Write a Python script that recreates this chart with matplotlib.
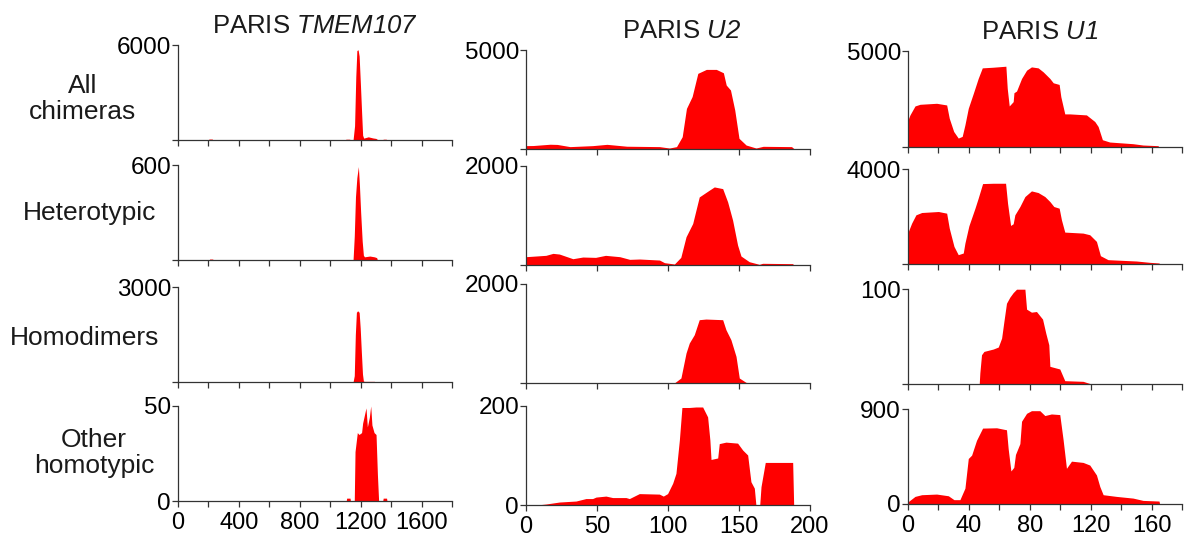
import matplotlib.pyplot as plt
from matplotlib.ticker import MultipleLocator

plt.rcParams['font.family'] = ['Liberation Sans', 'DejaVu Sans']
# gene names in the titles are set in italic sans, digits included
plt.rcParams['mathtext.fontset'] = 'custom'
plt.rcParams['mathtext.sf'] = 'Liberation Sans:italic'
plt.rcParams['mathtext.rm'] = 'Liberation Sans'

W, H = 1192, 539
RED = '#ff0000'
INK = '#1a1a1a'
SPINE = '#333333'

# ---------- PARIS TMEM107, chimera coverage along 0-1800 nt ----------
tmem_all_x = [0, 200, 203, 225, 228, 1100, 1103, 1128, 1131,
              1150, 1160, 1168, 1175, 1183, 1190, 1198, 1206, 1213, 1220, 1250, 1280, 1300, 1315,
              1345, 1348, 1368, 1371]
tmem_all_y = [0, 0, 60, 60, 0, 0, 50, 50, 0,
              0, 900, 4000, 5650, 5700, 5300, 3600, 1800, 300, 120, 200, 130, 100, 0,
              0, 50, 50, 0]

tmem_het_x = [0, 205, 208, 228, 231,
              1150, 1158, 1166, 1175, 1185, 1192, 1200, 1210, 1218, 1225, 1260, 1290, 1305, 1310]
tmem_het_y = [0, 0, 6, 6, 0,
              0, 150, 400, 520, 590, 470, 300, 120, 30, 20, 25, 20, 15, 0]

tmem_homo_x = [1150, 1158, 1165, 1172, 1180, 1190, 1197, 1205, 1212, 1218, 1225, 1290, 1295]
tmem_homo_y = [0, 200, 1500, 2200, 2250, 2200, 1700, 900, 250, 30, 20, 20, 0]

tmem_oth_x = [1105, 1108, 1130, 1133,
              1158, 1163, 1169, 1178, 1189, 1206, 1213, 1224, 1235, 1244, 1257, 1266, 1274,
              1288, 1301, 1310, 1318,
              1345, 1348, 1370, 1373]
tmem_oth_y = [0, 1.5, 1.5, 0,
              0, 26, 30, 36, 35, 36, 41, 45, 49, 39, 44, 50, 40,
              36, 35, 14, 0,
              0, 1.5, 1.5, 0]

# ---------- PARIS U2, 0-200 nt ----------
u2_all_x = [0, 5, 17, 22, 31, 47, 57, 71, 94, 101, 106, 110, 113, 117, 121, 127, 134,
            139, 141, 144, 147, 150, 155, 162, 167, 187, 189]
u2_all_y = [170, 175, 240, 230, 120, 170, 235, 140, 120, 50, 120, 620, 2050, 2650, 3820,
            4020, 4020, 3850, 3230, 2980, 1970, 540, 200, 50, 135, 120, 0]

u2_het_x = [0, 14, 19, 23.5, 33, 40, 49, 56, 66, 73, 80, 94, 97.5, 104.5, 109, 112.7,
            117.4, 122, 129, 132.6, 138.5, 142, 145.5, 149, 151.4, 157.2, 164.3, 166.6,
            187.8, 188.5]
u2_het_y = [168, 195, 235, 221, 127, 161, 154, 195, 168, 114, 121, 100, 47, 20, 154, 570,
            839, 1375, 1510, 1577, 1543, 1275, 906, 403, 181, 67, 13, 34,
            27, 0]

u2_homo_x = [104.4, 109.1, 112.7, 115, 118.5, 122, 126.7, 138.5, 140.8, 144.3, 147.9,
             150.2, 154.9, 158.4]
u2_homo_y = [0, 101, 606, 808, 976, 1279, 1292, 1279, 1077, 875, 538, 101, 13, 0]

u2_oth_x = [7.5, 14.1, 23.5, 35.2, 42.2, 46.9, 49.3, 56.3, 61, 70.4, 72.8, 79.8, 93.9,
            96.7, 99.7, 103.3, 105.6, 108, 109.8, 115, 119.7, 124.4, 127.9, 129.5, 130.3,
            135, 136.1, 140.8, 149, 152.6, 156.1, 158.4, 160.8, 161.9,
            164.6, 165.5, 168.5, 187.8, 188.5]
u2_oth_y = [0, 2, 6, 8, 13, 13, 16, 18, 15, 15, 13, 23, 22,
            18, 23, 44, 64, 131, 197, 197, 198, 198, 178, 131, 92,
            95, 124, 127, 125, 111, 101, 47, 34, 0,
            0, 37, 86, 86, 0]

# ---------- PARIS U1, 0-180 nt ----------
u1_all_x = [0, 1.3, 4.6, 7.9, 18.8, 25.4, 27.1, 30, 33, 35.6, 37.4, 39.6, 42.9, 46.1,
            48.8, 55.9, 64.3, 65.2, 66.5, 69.1, 69.6, 71.3, 74.6, 77.9, 81.1, 85.5, 88.8,
            93.2, 95.4, 99.3, 100.4, 103, 106.3, 117.2, 122.7, 124.9, 127.7, 132.5,
            147.8, 154.4, 164.2, 164.9]
u1_all_y = [1414, 1672, 2138, 2224, 2276, 2190, 1500, 810, 465, 552, 1155, 2017, 2793,
            3569, 4121, 4155, 4207, 3052, 2138, 2362, 2827, 2914, 3569, 4000, 4172, 4121,
            3914, 3569, 3345, 3258, 2620, 1724, 1724, 1672, 1328, 1069, 379, 259,
            172, 103, 69, 0]

u1_het_x = [0, 0.4, 2.4, 5.2, 9, 20, 25.4, 27.1, 30.2, 33, 36.3, 37.4, 40, 44, 46.1, 49,
            56, 64.1, 65.4, 67.4, 69.1, 70.2, 73.5, 76.8, 81.1, 85.5, 89.9, 93.2, 95.8,
            99.3, 100.8, 103, 115, 119.4, 123.8, 126.4, 131.4, 150, 158.8, 164.9, 165.3]
u1_het_y = [1200, 1399, 1721, 2070, 2168, 2210, 2140, 1511, 741, 392, 462, 881, 1609, 2350,
            2770, 3386, 3400, 3400, 2560, 1623, 1693, 2070, 2420, 2840, 3078, 3008, 2840,
            2630, 2420, 2350, 1861, 1343, 1301, 1231, 951, 350, 182, 126, 70, 42, 0]

u1_homo_x = [46.8, 47.2, 48.3, 49.9, 56, 59.3, 61.5, 63, 64.7, 66.9, 69.1, 71.3, 76.8,
             77.9, 81.1, 84.4, 88.4, 90.5, 92.5, 93.2, 99.7, 103, 115, 120.5]
u1_homo_y = [0, 11.6, 30.8, 34.3, 36.8, 38.9, 48.3, 65.8, 85, 91.4, 96.2, 99.8, 99.8,
             78.8, 75.6, 76.3, 68.3, 53.6, 41.3, 18.6, 15.8, 3.5, 2.8, 0]

u1_oth_x = [0, 0.4, 4.6, 9, 18.8, 26.5, 30.2, 34.1, 37.4, 39.6, 41.8, 45, 49, 58.2, 64.7,
            65.8, 67.6, 69.5, 70.6, 73.5, 74.6, 77.9, 81.1, 86.6, 89.9, 94.2, 99.7, 101.9,
            104.1, 107.4, 115, 119.4, 123.8, 126, 128.2, 136.9, 147.8, 154.4, 164.9, 165.3]
u1_oth_y = [20, 25, 72, 88, 94, 78, 41, 41, 150, 431, 463, 603, 719, 722, 703,
            525, 313, 347, 469, 572, 784, 859, 884, 884, 838, 853, 847, 609,
            338, 406, 394, 369, 275, 166, 88, 72, 56, 34, 28, 0]

row_names = ['All\nchimeras', 'Heterotypic', 'Homodimers', 'Other\nhomotypic']
row_label_xy = [(83, 99), (90, 213), (85, 338), (94, 453)]

columns = [
    dict(gene='TMEM107', xmax=1800, minor=200, major=400, title_x=0.5,
         series=[(tmem_all_x, tmem_all_y, 6000), (tmem_het_x, tmem_het_y, 600),
                 (tmem_homo_x, tmem_homo_y, 3000), (tmem_oth_x, tmem_oth_y, 50)],
         boxes=[(178, 45, 452, 140), (178, 165, 452, 260),
                (178, 287, 452, 382), (178, 406, 452, 501)]),
    dict(gene='U2', xmax=200, minor=50, major=50, title_x=0.546,
         series=[(u2_all_x, u2_all_y, 5000), (u2_het_x, u2_het_y, 2000),
                 (u2_homo_x, u2_homo_y, 2000), (u2_oth_x, u2_oth_y, 200)],
         boxes=[(526, 50, 810, 149), (526, 166, 810, 265),
                (526, 284, 810, 383), (526, 406, 810, 505)]),
    dict(gene='U1', xmax=180, minor=20, major=40, title_x=0.48,
         series=[(u1_all_x, u1_all_y, 5000), (u1_het_x, u1_het_y, 4000),
                 (u1_homo_x, u1_homo_y, 100), (u1_oth_x, u1_oth_y, 900)],
         boxes=[(908, 51, 1182, 147), (908, 169, 1182, 264),
                (908, 289, 1182, 384), (908, 409, 1182, 504)]),
]

fig = plt.figure(figsize=(W / 100, H / 100), dpi=100)


def px_axes(left, top, right, bottom):
    return fig.add_axes([left / W, 1 - bottom / H, (right - left) / W, (bottom - top) / H])


for col in columns:
    for r, ((xs, ys, ymax), box) in enumerate(zip(col['series'], col['boxes'])):
        ax = px_axes(*box)
        ax.fill_between(xs, ys, 0, color=RED, lw=0)
        ax.set_xlim(0, col['xmax'])
        ax.set_ylim(0, ymax)
        for side in ('top', 'right'):
            ax.spines[side].set_visible(False)
        for side in ('left', 'bottom'):
            ax.spines[side].set_color(SPINE)
            ax.spines[side].set_linewidth(0.9)
        ax.xaxis.set_major_locator(MultipleLocator(col['major']))
        ax.xaxis.set_minor_locator(MultipleLocator(col['minor']))
        last = r == len(col['series']) - 1
        ax.set_yticks([0, ymax])
        ax.set_yticklabels(['0' if last else '', str(ymax)])
        ax.tick_params(which='both', direction='out', length=4, width=0.9, color=SPINE,
                       labelcolor='black')
        ax.tick_params(axis='y', labelsize=17.5, pad=1)
        ax.tick_params(axis='x', labelsize=17, pad=4, labelbottom=last)
        ax.patch.set_alpha(0)
        if r == 0:
            ax.set_title('PARIS $\\mathsf{%s}$' % col['gene'], fontsize=18.5,
                         color=INK, pad=8.5, x=col['title_x'])

for name, (x, y) in zip(row_names, row_label_xy):
    fig.text(x / W, 1 - y / H, name, ha='center', va='center', fontsize=19,
             color=INK, linespacing=1.12)

fig.savefig('out.png', dpi=100)
